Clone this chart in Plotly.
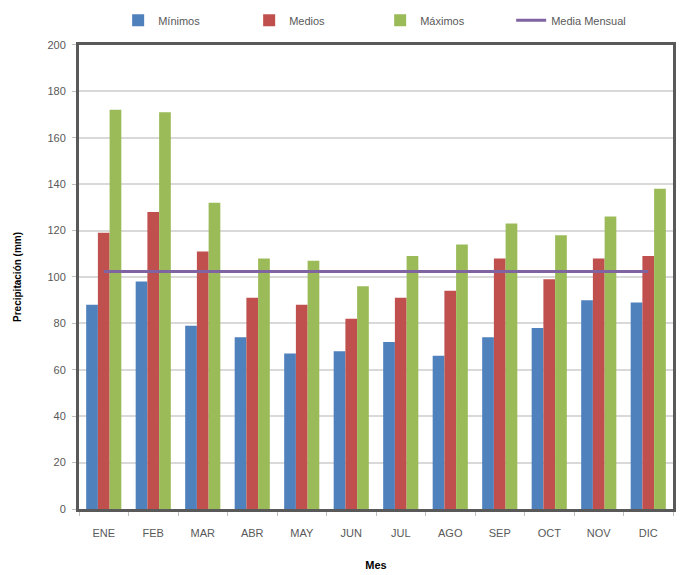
import plotly.graph_objects as go

meses = ["ENE", "FEB", "MAR", "ABR", "MAY", "JUN", "JUL", "AGO", "SEP", "OCT", "NOV", "DIC"]
minimos = [88, 98, 79, 74, 67, 68, 72, 66, 74, 78, 90, 89]
medios = [119, 128, 111, 91, 88, 82, 91, 94, 108, 99, 108, 109]
maximos = [172, 171, 132, 108, 107, 96, 109, 114, 123, 118, 126, 138]
media_mensual = [102.3, 102.3, 102.3, 102.3, 102.3, 102.3, 102.3, 102.3, 102.3, 102.3, 102.3, 102.3]
y_ticks = [0, 20, 40, 60, 80, 100, 120, 140, 160, 180, 200]

FONT = "Liberation Sans"
GRAY = "#595959"

fig = go.Figure()
fig.add_trace(go.Bar(name="Mínimos", x=meses, y=minimos, marker=dict(color="#4F81BD", line=dict(width=0))))
fig.add_trace(go.Bar(name="Medios", x=meses, y=medios, marker=dict(color="#C0504D", line=dict(width=0))))
fig.add_trace(go.Bar(name="Máximos", x=meses, y=maximos, marker=dict(color="#9BBB59", line=dict(width=0))))
fig.add_trace(go.Scatter(name="Media Mensual", x=meses, y=media_mensual, mode="lines",
                         line=dict(color="#8064A2", width=3)))

fig.update_layout(
    width=680, height=575,
    margin=dict(l=79, r=4, t=43, b=65),
    paper_bgcolor="white", plot_bgcolor="white",
    barmode="group", bargap=0.29, bargroupgap=0,
    font=dict(family=FONT, size=11, color=GRAY),
    legend=dict(orientation="h", x=0.507, xanchor="center", y=0.99, yanchor="top",
                yref="container", font=dict(family=FONT, size=11, color=GRAY),
                entrywidth=86, traceorder="normal"),
    showlegend=True,
)

fig.update_xaxes(
    title=dict(text="<b>Mes</b>", font=dict(family=FONT, size=11, color="black"), standoff=24),
    showline=True, mirror=True, linecolor=GRAY, linewidth=3,
    ticks="outside", ticklen=4, tickcolor="#BFBFBF", tickson="boundaries",
    ticklabelstandoff=12,
    tickfont=dict(family=FONT, size=11, color=GRAY),
    showgrid=False,
)
fig.update_yaxes(
    title=dict(text="<b>Precipitación (mm)</b>", font=dict(family=FONT, size=10, color="black"), standoff=24),
    range=[0, 200], tickvals=y_ticks,
    showline=True, mirror=True, linecolor=GRAY, linewidth=3,
    ticks="outside", ticklen=4, tickcolor="#BFBFBF",
    ticklabelstandoff=4,
    showgrid=True, gridcolor="#D9D9D9", gridwidth=2,
    tickfont=dict(family=FONT, size=11, color=GRAY),
    zeroline=False,
)

fig.write_html("out.html")
